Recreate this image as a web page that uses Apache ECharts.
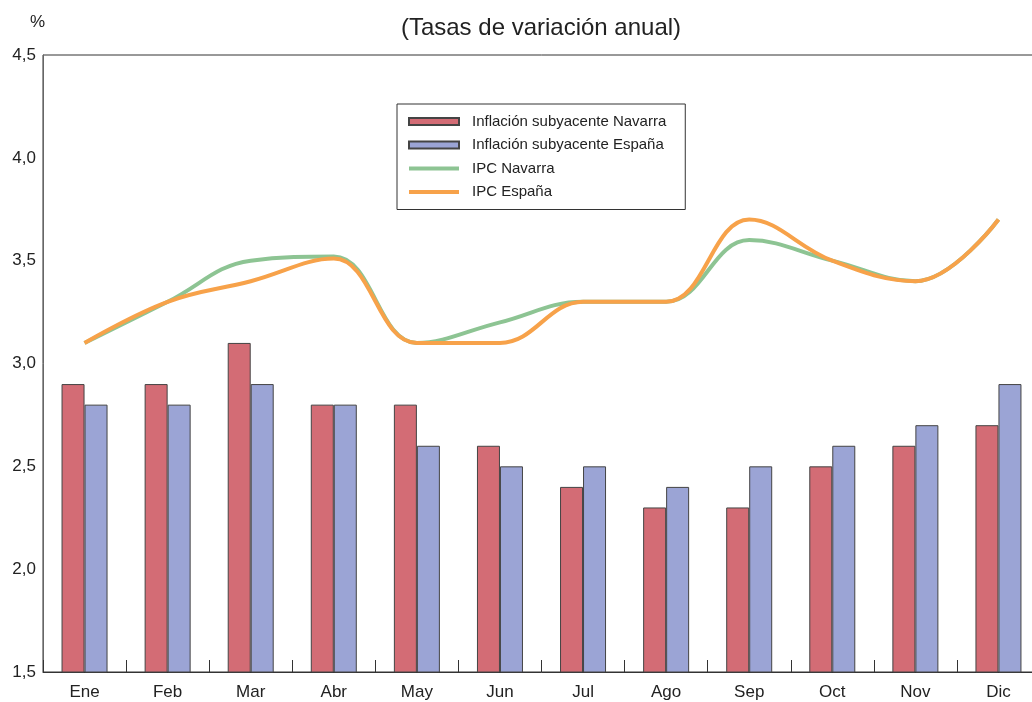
<!DOCTYPE html>
<html>
<head>
<meta charset="utf-8">
<script src="https://cdn.jsdelivr.net/npm/echarts@6/dist/echarts.min.js"></script>
<style>
  html, body { margin: 0; padding: 0; background: #fff; overflow: hidden; }
  #chart { width: 1082px; height: 702px; }
</style>
</head>
<body>
<div id="chart"></div>
<script>
var months = ['Ene', 'Feb', 'Mar', 'Abr', 'May', 'Jun', 'Jul', 'Ago', 'Sep', 'Oct', 'Nov', 'Dic']
var subyacenteNavarra = [2.9, 2.9, 3.1, 2.8, 2.8, 2.6, 2.4, 2.3, 2.3, 2.5, 2.6, 2.7]
var subyacenteEspana = [2.8, 2.8, 2.9, 2.8, 2.6, 2.5, 2.5, 2.4, 2.5, 2.6, 2.7, 2.9]
var ipcNavarra = [3.1, 3.3, 3.5, 3.52, 3.1, 3.2, 3.3, 3.3, 3.6, 3.5, 3.4, 3.7]
var ipcEspana = [3.1, 3.3, 3.4, 3.51, 3.1, 3.1, 3.3, 3.3, 3.7, 3.5, 3.4, 3.7]

// thin bar in the middle of the legend icon box, for the line series
var lineIcon = 'path://M0,0L0.01,0M0,7L0.01,7M0,1.5L50,1.5L50,5.5L0,5.5Z'

var myChart = echarts.init(document.getElementById('chart'))

var option = {
  animation: false,
  textStyle: { fontFamily: 'Liberation Sans, Arial, sans-serif' },
  title: [
    {
      text: '(Tasas de variación anual)',
      left: 'center',
      top: 11,
      textStyle: { fontSize: 24, fontWeight: 'normal', color: '#222' }
    },
    {
      text: '%',
      left: 25,
      top: 9,
      textStyle: { fontSize: 17, fontWeight: 'normal', color: '#222' }
    }
  ],
  legend: {
    orient: 'vertical',
    left: 397,
    top: 104,
    padding: [10, 19, 10, 11],
    itemGap: 8.5,
    itemWidth: 50,
    itemHeight: 7,
    borderColor: '#333',
    borderWidth: 1,
    textStyle: { fontSize: 15, color: '#222', padding: [0, 0, 0, 8] },
    data: [
      { name: 'Inflación subyacente Navarra', icon: 'rect' },
      { name: 'Inflación subyacente España', icon: 'rect' },
      { name: 'IPC Navarra', icon: lineIcon, itemStyle: { color: '#8dc493', borderWidth: 0 } },
      { name: 'IPC España', icon: lineIcon, itemStyle: { color: '#f7a24a', borderWidth: 0 } }
    ]
  },
  grid: {
    left: 43,
    right: 42,
    top: 55,
    bottom: 30,
    show: true,
    borderColor: '#333',
    borderWidth: 1
  },
  xAxis: {
    type: 'category',
    data: months,
    boundaryGap: true,
    axisLine: { lineStyle: { color: '#333' } },
    axisTick: { show: true, inside: true, length: 12, lineStyle: { color: '#333' } },
    axisLabel: { fontSize: 17, color: '#222', margin: 12 }
  },
  yAxis: {
    type: 'value',
    min: 1.5,
    max: 4.5,
    interval: 0.5,
    splitLine: { show: false },
    axisLine: { show: true, lineStyle: { color: '#666' } },
    axisTick: { show: false },
    axisLabel: {
      fontSize: 17,
      color: '#222',
      margin: 7,
      formatter: function (v) { return v.toFixed(1).replace('.', ',') }
    }
  },
  series: [
    {
      name: 'Inflación subyacente Navarra',
      type: 'bar',
      data: subyacenteNavarra,
      barWidth: 23,
      barGap: '0%',
      itemStyle: { color: '#d36c75', borderColor: '#444', borderWidth: 1 }
    },
    {
      name: 'Inflación subyacente España',
      type: 'bar',
      data: subyacenteEspana,
      barWidth: 23,
      itemStyle: { color: '#9ba4d5', borderColor: '#444', borderWidth: 1 }
    },
    {
      name: 'IPC Navarra',
      type: 'line',
      data: ipcNavarra,
      smooth: 0.4,
      symbol: 'none',
      itemStyle: { color: '#8dc493' },
      lineStyle: { color: '#8dc493', width: 4 }
    },
    {
      name: 'IPC España',
      type: 'line',
      data: ipcEspana,
      smooth: 0.4,
      symbol: 'none',
      itemStyle: { color: '#f7a24a' },
      lineStyle: { color: '#f7a24a', width: 4 }
    }
  ]
}

myChart.setOption(option)
</script>
</body>
</html>
